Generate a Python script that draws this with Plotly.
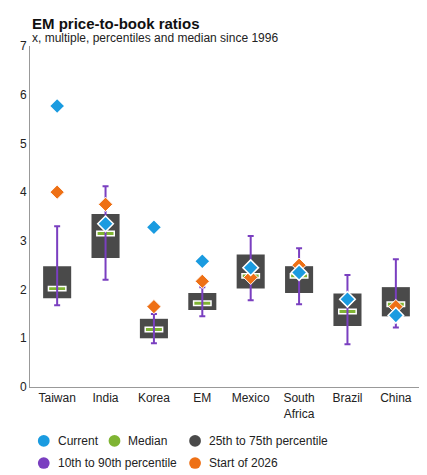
import plotly.graph_objects as go

countries = ["Taiwan", "India", "Korea", "EM", "Mexico", "South<br>Africa", "Brazil", "China"]
p10 = [1.68, 2.20, 0.90, 1.45, 1.78, 1.70, 0.88, 1.22]
p25 = [1.82, 2.65, 1.00, 1.58, 2.02, 1.93, 1.25, 1.45]
median = [2.02, 3.15, 1.18, 1.72, 2.28, 2.28, 1.55, 1.70]
p75 = [2.48, 3.55, 1.40, 1.93, 2.72, 2.48, 1.92, 2.05]
p90 = [3.30, 4.12, 1.50, 2.05, 3.10, 2.85, 2.30, 2.62]
current = [5.77, 3.35, 3.28, 2.58, 2.45, 2.35, 1.80, 1.47]
start_2026 = [4.00, 3.75, 1.65, 2.17, 2.25, 2.50, 1.78, 1.65]

BLUE = "#1a9be0"
ORANGE = "#ee7015"
GREEN = "#7fb433"
GREY = "#4a4a4a"
PURPLE = "#7a3fc0"

fig = go.Figure()

# whiskers drawn as error bars around a hidden point
fig.add_trace(go.Scatter(
    x=countries, y=p10, mode="markers", marker=dict(opacity=0, size=1),
    error_y=dict(type="data", symmetric=False,
                 array=[b - a for a, b in zip(p10, p90)], arrayminus=[0] * len(p10),
                 color=PURPLE, thickness=2, width=3),
    showlegend=False, hoverinfo="skip"))

fig.add_trace(go.Bar(
    x=countries, y=[b - a for a, b in zip(p25, p75)], base=p25,
    marker=dict(color=GREY, line=dict(width=0)), width=0.58, showlegend=False))

fig.add_trace(go.Bar(
    x=countries, y=[0.09] * len(median), base=[m - 0.045 for m in median],
    marker=dict(color=GREEN, line=dict(color="white", width=1.5)), width=0.36,
    showlegend=False))

fig.add_trace(go.Scatter(
    x=countries, y=start_2026, mode="markers",
    marker=dict(symbol="diamond", size=11, color=ORANGE, line=dict(color="white", width=1)),
    showlegend=False))
fig.add_trace(go.Scatter(
    x=countries, y=current, mode="markers",
    marker=dict(symbol="diamond", size=12, color=BLUE, line=dict(color="white", width=1.5)),
    showlegend=False))

# manual legend
legend_items = [
    (0.02, -0.158, BLUE, "Current"),
    (0.20, -0.158, GREEN, "Median"),
    (0.405, -0.158, GREY, "25th to 75th percentile"),
    (0.02, -0.223, PURPLE, "10th to 90th percentile"),
    (0.405, -0.223, ORANGE, "Start of 2026"),
]
for lx, ly, col, label in legend_items:
    fig.add_shape(type="circle", xref="paper", yref="paper",
                  x0=lx, x1=lx + 0.03, y0=ly - 0.017, y1=ly + 0.017,
                  fillcolor=col, line=dict(width=0))
    fig.add_annotation(x=lx + 0.045, y=ly, xref="paper", yref="paper", text=label,
                       showarrow=False, xanchor="left", yanchor="middle",
                       font=dict(size=12, color="#222"))

fig.add_annotation(x=0, y=1.097, xref="paper", yref="paper", xanchor="left",
                   text="<b>EM price-to-book ratios</b>", showarrow=False,
                   font=dict(size=15, color="#111"))
fig.add_annotation(x=0, y=1.05, xref="paper", yref="paper", xanchor="left",
                   text="x, multiple, percentiles and median since 1996", showarrow=False,
                   font=dict(size=12, color="#222"))

fig.update_layout(
    width=427, height=475, barmode="overlay",
    margin=dict(l=22, r=12, t=38, b=96),
    plot_bgcolor="white", paper_bgcolor="white",
    font=dict(family="Liberation Sans, Arial", size=12, color="#222"),
    xaxis=dict(showline=True, linecolor="#999", ticks="", tickfont=dict(size=12),
               showgrid=False),
    yaxis=dict(range=[0, 7], dtick=1, showgrid=False, showline=True, linecolor="#999",
               zeroline=False, tickfont=dict(size=12)),
)

fig.write_html("out.html")
